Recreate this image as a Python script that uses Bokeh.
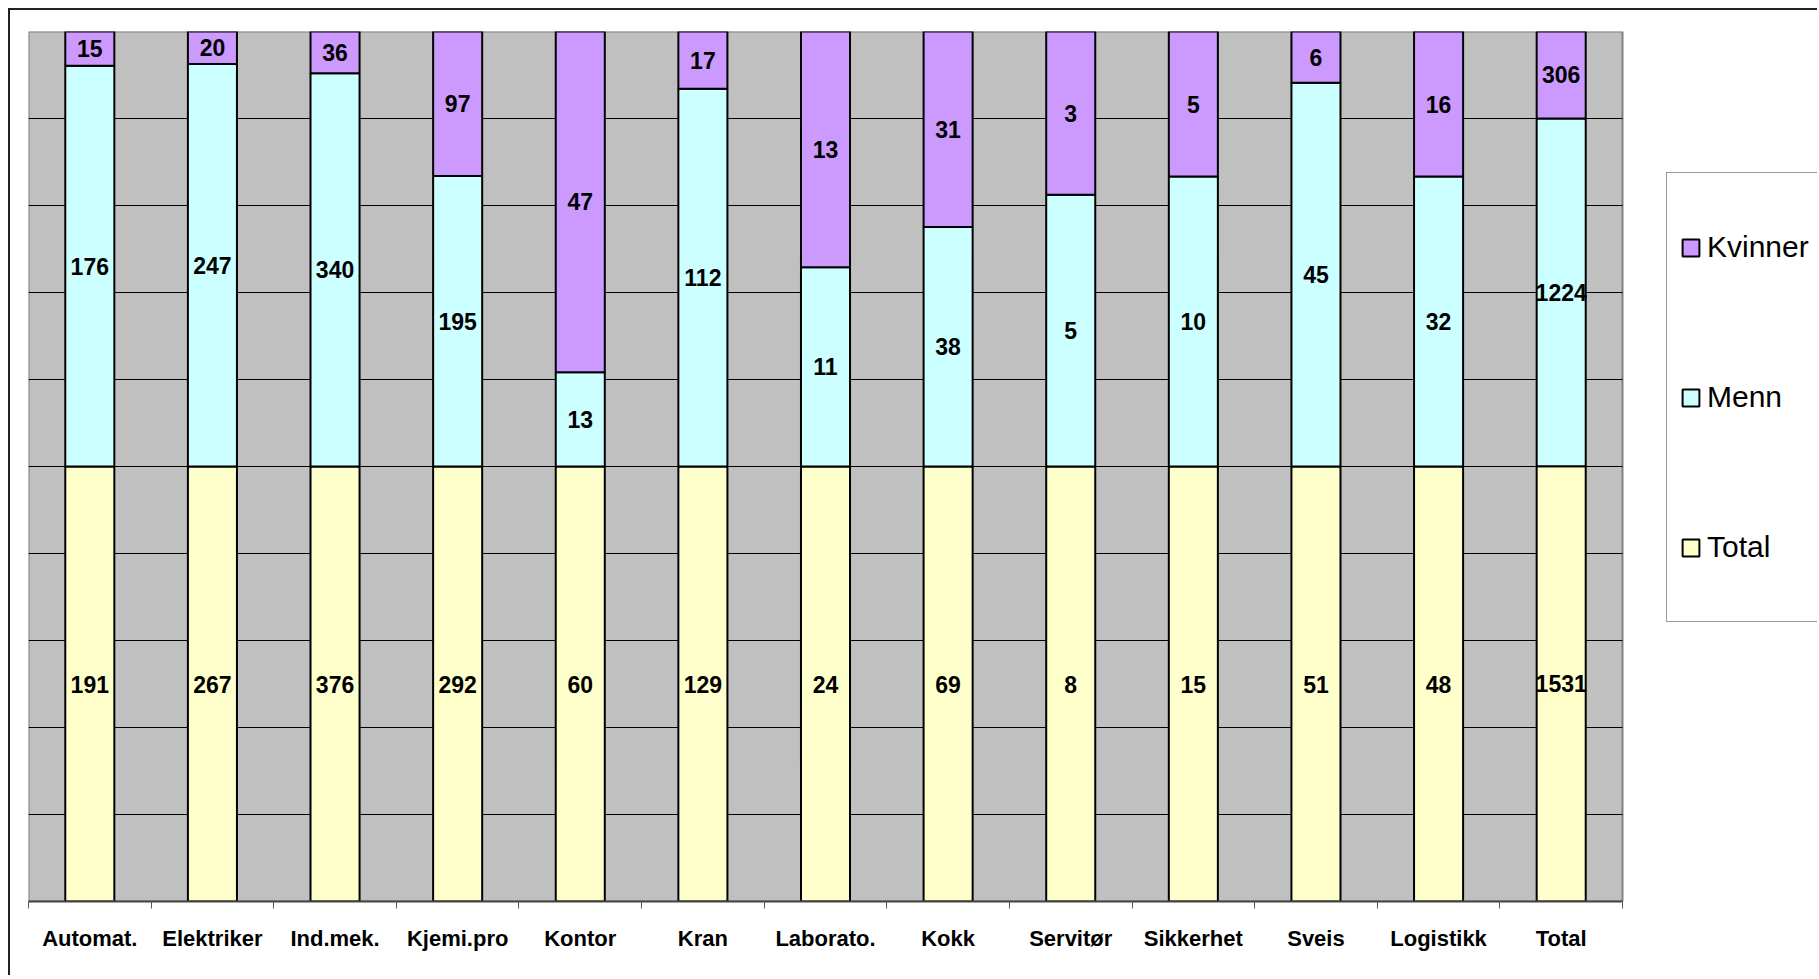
import numpy as np
from bokeh.plotting import figure
from bokeh.models import ColumnDataSource, FixedTicker, Legend, LegendItem, Range1d
from bokeh.core.properties import value
from bokeh.embed import file_html
from bokeh.resources import INLINE

categories = ["Automat.", "Elektriker", "Ind.mek.", "Kjemi.pro", "Kontor", "Kran",
              "Laborato.", "Kokk", "Servitør", "Sikkerhet", "Sveis", "Logistikk", "Total"]
total = [191, 267, 376, 292, 60, 129, 24, 69, 8, 15, 51, 48, 1531]
menn = [176, 247, 340, 195, 13, 112, 11, 38, 5, 10, 45, 32, 1224]
kvinner = [15, 20, 36, 97, 47, 17, 13, 31, 3, 5, 6, 16, 306]
grid_levels = [0.1, 0.2, 0.3, 0.4, 0.5, 0.6, 0.7, 0.8, 0.9]

n = len(categories)
t = np.array(total, float)
m = np.array(menn, float)
k = np.array(kvinner, float)
s = t + m + k
ft, fm, fk = t / s, m / s, k / s
xs = np.arange(n) + 0.5

src = ColumnDataSource(dict(x=xs, Total=ft, Menn=fm, Kvinner=fk))

# layout in pixels
FL, FT = 28, 31          # frame left / top on the page
PW, FH = 1594, 870       # plot-area width, frame height
W, H = 1817, 975
FW = W - FL
xmax = n * FW / PW

p = figure(width=W, height=H, output_backend="svg", toolbar_location=None,
           x_range=Range1d(0, xmax), y_range=Range1d(0, 1),
           min_border_left=FL, min_border_top=FT, min_border_right=0,
           min_border_bottom=H - FT - FH)
p.styles = {
    "background": "linear-gradient(#222,#222) 8px 8px / 2px 100% no-repeat, "
                  "linear-gradient(#222,#222) 8px 8px / 100% 2px no-repeat, white"
}
p.background_fill_color = None
p.border_fill_color = None
p.outline_line_color = None
p.xgrid.visible = False
p.ygrid.visible = False

# plot area background and border
p.quad(left=[0], right=[n], bottom=[0], top=[1], fill_color="#C0C0C0",
       line_color="#808080", line_width=2)
# horizontal gridlines
p.segment(x0=[0] * len(grid_levels), x1=[n] * len(grid_levels), y0=grid_levels,
          y1=grid_levels, line_color="black", line_width=1)

colors = ["#FFFFCC", "#CCFFFF", "#CC99FF"]
rs = p.vbar_stack(["Total", "Menn", "Kvinner"], x="x", width=0.4, source=src,
                  fill_color=colors, line_color="black", line_width=2)

# labels
lx, ly, lt = [], [], []
for i in range(n):
    lx += [xs[i]] * 3
    ly += [ft[i] / 2, ft[i] + fm[i] / 2, ft[i] + fm[i] + fk[i] / 2]
    lt += [str(total[i]), str(menn[i]), str(kvinner[i])]
p.text(x=lx, y=ly, text=lt, text_align="center", text_baseline="middle",
       text_font=value("Liberation Sans"), text_font_style="bold",
       text_font_size="23px", text_color="black")

p.yaxis.visible = False

ax = p.xaxis[0]
ax.bounds = (0, n)
ax.ticker = FixedTicker(ticks=list(xs), minor_ticks=list(range(n + 1)))
ax.major_label_overrides = {float(x): c for x, c in zip(xs, categories)}
ax.major_tick_line_color = None
ax.major_tick_out = 0
ax.major_tick_in = 0
ax.minor_tick_out = 7
ax.minor_tick_in = 0
ax.minor_tick_line_color = "#555555"
ax.axis_line_color = "#444444"
ax.axis_line_width = 2
ax.major_label_text_font = "Liberation Sans"
ax.major_label_text_font_style = "bold"
ax.major_label_text_font_size = "22px"
ax.major_label_text_color = "black"
ax.major_label_standoff = 17

legend = Legend(items=[LegendItem(label="Kvinner", renderers=[rs[2]]),
                       LegendItem(label="Menn", renderers=[rs[1]]),
                       LegendItem(label="Total", renderers=[rs[0]])],
                location=(1666 - FL, 901 - 622))
legend.border_line_color = "#333333"
legend.border_line_width = 1
legend.background_fill_color = "white"
legend.background_fill_alpha = 1
legend.label_text_font = "Liberation Sans"
legend.label_text_font_size = "30px"
legend.label_text_color = "black"
legend.glyph_width = 21
legend.glyph_height = 21
legend.label_height = 122
legend.padding = 13
legend.spacing = 28
legend.label_standoff = 6
legend.margin = 0
p.add_layout(legend, "center")

open("out.html", "w").write(file_html(p, INLINE))
